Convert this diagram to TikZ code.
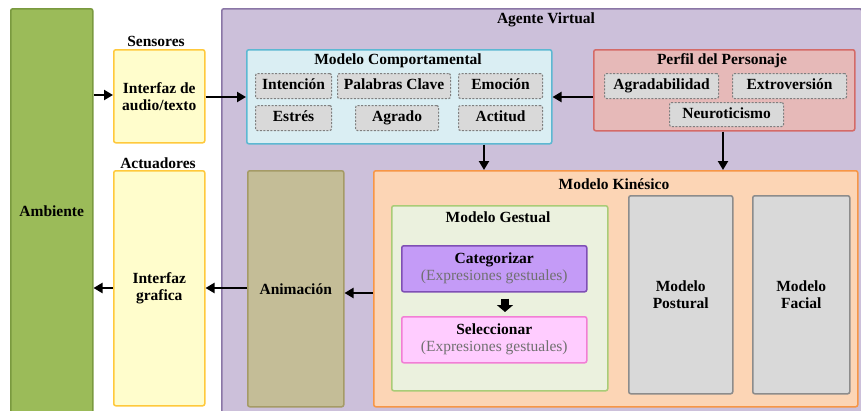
\documentclass[tikz,border=0pt]{standalone}
\usepackage{fontspec}
\setmainfont{Liberation Serif}
\usetikzlibrary{arrows.meta}
\definecolor{ambfill}{HTML}{9BBB59}
\definecolor{ambdraw}{HTML}{7A9A3F}
\definecolor{yelfill}{HTML}{FFFDCC}
\definecolor{yeldraw}{HTML}{FFC93C}
\definecolor{avfill}{HTML}{CCC0DA}
\definecolor{avdraw}{HTML}{8A76A6}
\definecolor{mcfill}{HTML}{DAEEF3}
\definecolor{mcdraw}{HTML}{5CB8D2}
\definecolor{subfill}{HTML}{D9D9D9}
\definecolor{subdraw}{HTML}{7F7F7F}
\definecolor{ppfill}{HTML}{E6B9B8}
\definecolor{ppdraw}{HTML}{D46A67}
\definecolor{mkfill}{HTML}{FCD5B5}
\definecolor{mkdraw}{HTML}{F79646}
\definecolor{mgfill}{HTML}{EBF1DE}
\definecolor{mgdraw}{HTML}{A9CC77}
\definecolor{catfill}{HTML}{C49BF7}
\definecolor{catdraw}{HTML}{7F4FB5}
\definecolor{selfill}{HTML}{FFCCFF}
\definecolor{seldraw}{HTML}{F27ED5}
\definecolor{animfill}{HTML}{C4BD97}
\definecolor{animdraw}{HTML}{A59B66}
\definecolor{grfill}{HTML}{D9D9D9}
\definecolor{grdraw}{HTML}{8C8C8C}
\definecolor{subtext}{HTML}{707070}
\begin{document}
\begin{tikzpicture}[x=1pt,y=-1pt,
  box/.style={draw, line width=1.5pt, rounded corners=2pt, inner sep=2pt, align=center,
    font=\fontsize{15.5}{17}\selectfont\bfseries, anchor=north west},
  dbox/.style={box, draw=subdraw, fill=subfill, dash pattern=on 2pt off 1.5pt, line width=1.1pt,
    text height=10.5pt, text depth=3.5pt},
  ttl/.style={font=\fontsize{15.5}{17}\selectfont\bfseries, inner sep=0pt},
  arr/.style={-{Triangle[length=9pt,width=10pt]}, line width=2.2pt},
  blockarr/.style={-{Triangle[length=7pt,width=16pt]}, line width=8pt}
]
\useasboundingbox (0,0) rectangle (861,410);
\fill[white] (0,0) rectangle (861,410);

% Ambiente
\node[box, fill=ambfill, draw=ambdraw, minimum width=82pt, minimum height=404pt] (amb) at (10,8) {Ambiente};

% Sensores / Actuadores
\node[ttl] (sens) at (156,41) {Sensores};
\node[box, fill=yelfill, draw=yeldraw, minimum width=91pt, minimum height=93pt] (ia) at (113,49) {Interfaz de\\audio/texto};
\node[ttl] (act) at (158,163) {Actuadores};
\node[box, fill=yelfill, draw=yeldraw, minimum width=91pt, minimum height=235pt] (ig) at (113,170) {Interfaz\\grafica};

% Agente Virtual
\node[box, fill=avfill, draw=avdraw, minimum width=640pt, minimum height=404pt] (av) at (221,8) {};
\node[ttl] (avt) at (546,20) {Agente Virtual};

% Modelo Comportamental
\node[box, fill=mcfill, draw=mcdraw, minimum width=305pt, minimum height=94pt] (mc) at (246,49) {};
\node[ttl] (mct) at (398,61) {Modelo Comportamental};
\node[dbox, minimum width=76pt, minimum height=25pt] (int) at (255,73) {Intención};
\node[dbox, minimum width=113pt, minimum height=25pt] (pal) at (337,73) {Palabras Clave};
\node[dbox, minimum width=84pt, minimum height=25pt] (emo) at (458,73) {Emoción};
\node[dbox, minimum width=76pt, minimum height=25pt] (est) at (255,105) {Estrés};
\node[dbox, minimum width=83pt, minimum height=25pt] (agr) at (355,105) {Agrado};
\node[dbox, minimum width=84pt, minimum height=25pt] (acti) at (458,105) {Actitud};

% Perfil del Personaje
\node[box, fill=ppfill, draw=ppdraw, minimum width=261pt, minimum height=81pt] (pp) at (593,49) {};
\node[ttl] (ppt) at (722,61) {Perfil del Personaje};
\node[dbox, minimum width=114pt, minimum height=25pt] (agd) at (604,73) {Agradabilidad};
\node[dbox, minimum width=114pt, minimum height=25pt] (ext) at (732,73) {Extroversión};
\node[dbox, minimum width=114pt, minimum height=24pt] (neu) at (669,102) {Neuroticismo};

% Animacion
\node[box, fill=animfill, draw=animdraw, minimum width=96pt, minimum height=236pt] (anim) at (247,170) {Animación};

% Modelo Kinesico
\node[box, fill=mkfill, draw=mkdraw, minimum width=484pt, minimum height=236pt] (mk) at (373,170) {};
\node[ttl] (mkt) at (614,184) {Modelo Kinésico};

% Modelo Gestual
\node[box, fill=mgfill, draw=mgdraw, minimum width=216pt, minimum height=185pt] (mg) at (391,205) {};
\node[ttl] (mgt) at (498,217) {Modelo Gestual};
\node[box, fill=catfill, draw=catdraw, minimum width=185pt, minimum height=46pt] (cat) at (401,245)
  {Categorizar\\{\mdseries\color{subtext}(Expresiones gestuales)}};
\node[box, fill=selfill, draw=seldraw, minimum width=185pt, minimum height=46pt] (sel) at (401,316)
  {Seleccionar\\{\mdseries\color{subtext}(Expresiones gestuales)}};

% Postural / Facial
\node[box, fill=grfill, draw=grdraw, minimum width=104pt, minimum height=198pt] (post) at (628,195) {Modelo\\Postural};
\node[box, fill=grfill, draw=grdraw, minimum width=97pt, minimum height=198pt] (fac) at (752,195) {Modelo\\Facial};

% Connectors
\draw[arr] (amb.east |- 0,95) -- (ia.west |- 0,95);
\draw[arr] (ia.east |- 0,97) -- (mc.west |- 0,97);
\draw[arr] (pp.west |- 0,97) -- (mc.east |- 0,97);
\draw[arr] (mc.south -| 484,0) -- (mk.north -| 484,0);
\draw[arr] (pp.south -| 723,0) -- (mk.north -| 723,0);
\draw[arr] (ig.west |- 0,288) -- (amb.east |- 0,288);
\draw[arr] (anim.west |- 0,288) -- (ig.east |- 0,288);
\draw[arr] (mk.west |- 0,293) -- (anim.east |- 0,293);
\draw[blockarr, shorten <=6pt, shorten >=4pt] (cat.south -| 505,0) -- (sel.north -| 505,0);
\end{tikzpicture}
\end{document}
